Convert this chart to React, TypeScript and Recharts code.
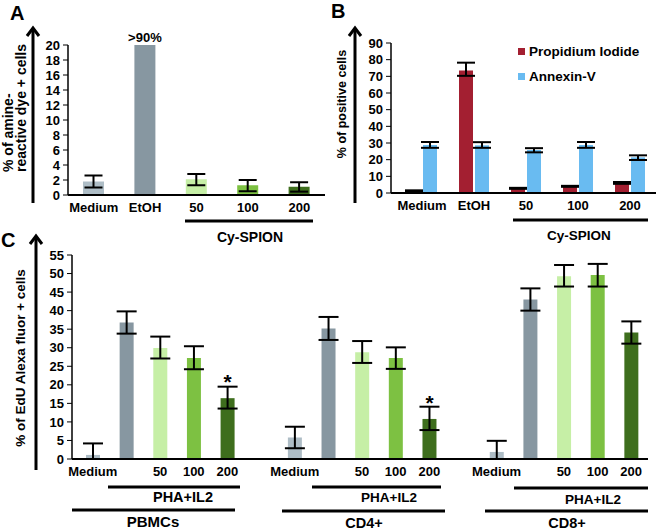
import React from "react"
import { BarChart, Bar, XAxis, YAxis, ErrorBar, Cell, LabelList, Legend } from "recharts"

// panel A - amine-reactive dye
const aCategories = ["Medium", "EtOH", "50", "100", "200"]
const aValues = [1.8, 20, 2.1, 1.3, 1.1]
const aErrLow = [0.8, null, 0.8, 0.8, 0.65]
const aErrHigh = [0.8, null, 0.7, 0.7, 0.6]
const aNotes = ["", ">90%", "", "", ""]
const aTicks = [0, 2, 4, 6, 8, 10, 12, 14, 16, 18, 20]

// panel B - PI / Annexin-V
const bCategories = ["Medium", "EtOH", "50", "100", "200"]
const piValues = [1.2, 73.5, 2.8, 4.0, 6.0]
const piErrLow = [0.4, 3.2, 0.3, 0.3, 0.5]
const piErrHigh = [0.4, 4.7, 0.3, 0.3, 0.6]
const annexinValues = [28.8, 28.6, 25.8, 28.8, 21.4]
const annexinErrLow = [1.7, 1.5, 1.4, 1.7, 1.6]
const annexinErrHigh = [1.8, 1.9, 1.1, 1.8, 1.2]
const bTicks = [0, 10, 20, 30, 40, 50, 60, 70, 80, 90]

// panel C - EdU proliferation (two empty slots split the cell groups)
const cLabels = ["Medium", "", "50", "100", "200", "", "Medium", "", "50", "100", "200", "", "Medium", "", "50", "100", "200"]
const cValues = [1.1, 36.8, 29.9, 27.2, 16.4, null, 5.8, 35.2, 28.8, 27.2, 10.8, null, 1.9, 43.0, 49.3, 49.6, 34.1]
const cErrLow = [1.1, 3.0, 2.8, 3.0, 2.8, null, 2.9, 3.1, 2.9, 2.9, 3.0, null, 1.9, 3.0, 2.8, 3.1, 3.0]
const cErrHigh = [3.1, 3.0, 3.1, 3.2, 3.1, null, 2.9, 3.1, 3.0, 2.9, 3.3, null, 3.0, 3.0, 3.0, 3.0, 3.0]
const cStars = ["", "", "", "", "*", "", "", "", "", "", "*", "", "", "", "", "", ""]
const cTicks = [0, 5, 10, 15, 20, 25, 30, 35, 40, 45, 50, 55]

const F = '"Liberation Sans", Arial, Helvetica, sans-serif'
const treatColors = ["#aebdc6", "#8797a1", "#c6efa6", "#7dc142", "#3e6e1d"]
const piColor = "#a31f31"
const annexinColor = "#69bbf1"

const errPair = (lo: number | null, hi: number | null) => (lo == null || hi == null ? undefined : [lo, hi])

const aData = aCategories.map((cat, i) => ({
  cat,
  value: aValues[i],
  err: errPair(aErrLow[i], aErrHigh[i]),
  note: aNotes[i],
}))

const bData = bCategories.map((cat, i) => ({
  cat,
  pi: piValues[i],
  piErr: [piErrLow[i], piErrHigh[i]],
  annexin: annexinValues[i],
  annexinErr: [annexinErrLow[i], annexinErrHigh[i]],
}))

const cData = cLabels.map((_, i) => ({
  slot: i,
  value: cValues[i],
  err: errPair(cErrLow[i], cErrHigh[i]),
  star: cStars[i],
}))

const bSeries = [
  { key: "pi", name: "Propidium Iodide", color: piColor },
  { key: "annexin", name: "Annexin-V", color: annexinColor },
]

const tickStyle = { fill: "#000", fontSize: 13, fontWeight: 700, fontFamily: F }
const xAxisLine = { stroke: "#000", strokeWidth: 2 }
const yAxisLine = { stroke: "#000", strokeWidth: 1.5 }

function Arrow({ x, top, bottom }: { x: number; top: number; bottom: number }) {
  return (
    <g>
      <line x1={x} y1={bottom} x2={x} y2={top + 2} stroke="#000" strokeWidth={3} />
      <path d={`M${x - 6},${top + 9} L${x},${top + 1} L${x + 6},${top + 9}`} fill="none" stroke="#000" strokeWidth={3} />
    </g>
  )
}

function GroupLine({ x1, x2, y }: { x1: number; x2: number; y: number }) {
  return <line x1={x1} x2={x2} y1={y} y2={y} stroke="#000" strokeWidth={3} />
}

function Txt({ x, y, size = 13, children }: { x: number; y: number; size?: number; children: React.ReactNode }) {
  return (
    <text x={x} y={y} textAnchor="middle" fontFamily={F} fontWeight={700} fontSize={size} fill="#000">
      {children}
    </text>
  )
}

export default function App() {
  const panelLetter = { position: "absolute" as const, fontFamily: F, fontWeight: 700, fontSize: 20, lineHeight: "20px" }
  return (
    <div style={{ position: "absolute", left: 0, top: 0, width: 661, height: 532, background: "#fff", fontFamily: F }}>
      {/* A */}
      <div style={{ position: "absolute", left: 0, top: 0 }}>
        <BarChart width={330} height={250} data={aData} margin={{ top: 45, right: 5, bottom: 25, left: 0 }}>
          <XAxis dataKey="cat" tick={tickStyle} tickLine={false} axisLine={xAxisLine} interval={0} />
          <YAxis domain={[0, 20]} ticks={aTicks} width={68} interval={0} tick={tickStyle} tickSize={5} tickMargin={3}
            tickLine={{ stroke: "#000" }} axisLine={yAxisLine} />
          <Bar dataKey="value" barSize={21} isAnimationActive={false}>
            {aData.map((_, i) => <Cell key={i} fill={treatColors[i]} />)}
            <ErrorBar dataKey="err" width={9} stroke="#000" strokeWidth={2} />
            <LabelList dataKey="note" position="top" offset={3} style={{ fill: "#000", fontSize: 13, fontWeight: 700, fontFamily: F }} />
          </Bar>
        </BarChart>
      </div>

      {/* B */}
      <div style={{ position: "absolute", left: 330, top: 0 }}>
        <BarChart width={331} height={250} data={bData} margin={{ top: 43, right: 5, bottom: 27, left: 0 }} barGap={2}>
          <XAxis dataKey="cat" tick={tickStyle} tickLine={false} axisLine={xAxisLine} interval={0} padding={{ left: 5, right: 0 }} />
          <YAxis domain={[0, 90]} ticks={bTicks} width={61} interval={0} tick={tickStyle} tickSize={5} tickMargin={3}
            tickLine={{ stroke: "#000" }} axisLine={yAxisLine} />
          <Legend layout="vertical" align="center" verticalAlign="middle"
            wrapperStyle={{ left: 188, top: 39, width: 140 }}
            content={() => (
              <div>
                {bSeries.map((s) => (
                  <div key={s.key} style={{ display: "flex", alignItems: "center", height: 25 }}>
                    <span style={{ width: 7, height: 7, background: s.color, marginRight: 4, display: "inline-block" }} />
                    <span style={{ fontFamily: F, fontWeight: 700, fontSize: 13.5, color: "#000" }}>{s.name}</span>
                  </div>
                ))}
              </div>
            )} />
          <Bar dataKey="pi" name="Propidium Iodide" fill={piColor} barSize={14} isAnimationActive={false}>
            <ErrorBar dataKey="piErr" width={9} stroke="#000" strokeWidth={2} />
          </Bar>
          <Bar dataKey="annexin" name="Annexin-V" fill={annexinColor} barSize={14} isAnimationActive={false}>
            <ErrorBar dataKey="annexinErr" width={9} stroke="#000" strokeWidth={2} />
          </Bar>
        </BarChart>
      </div>

      {/* C */}
      <div style={{ position: "absolute", left: 0, top: 240 }}>
        <BarChart width={661} height={292} data={cData} margin={{ top: 15, right: 13, bottom: 43, left: 0 }}>
          <XAxis dataKey="slot" tick={tickStyle} tickLine={false} axisLine={xAxisLine} interval={0}
            tickFormatter={(v) => cLabels[v]} padding={{ left: 4, right: 0 }} />
          <YAxis domain={[0, 55]} ticks={cTicks} width={72} interval={0} tick={tickStyle} tickSize={5} tickMargin={3}
            tickLine={{ stroke: "#000" }} axisLine={yAxisLine} />
          <Bar dataKey="value" barSize={14} isAnimationActive={false}>
            {cData.map((_, i) => <Cell key={i} fill={treatColors[i % 6] ?? "none"} />)}
            <ErrorBar dataKey="err" width={10} stroke="#000" strokeWidth={2} />
            <LabelList dataKey="star" position="top" offset={9} style={{ fill: "#000", fontSize: 21, fontWeight: 700, fontFamily: F }} />
          </Bar>
        </BarChart>
      </div>

      <div style={{ ...panelLetter, left: 10, top: 3 }}>A</div>
      <div style={{ ...panelLetter, left: 331, top: 1 }}>B</div>
      <div style={{ ...panelLetter, left: 1, top: 230 }}>C</div>

      <svg width={661} height={532} style={{ position: "absolute", left: 0, top: 0, pointerEvents: "none" }}>
        <Arrow x={33} top={27} bottom={203} />
        <Arrow x={355} top={27} bottom={203} />
        <Arrow x={36} top={235} bottom={470} />

        <text transform="translate(13,172) rotate(-90)" fontFamily={F} fontWeight={700} fontSize={14} fill="#000">% of amine-</text>
        <text transform="translate(26,172) rotate(-90)" fontFamily={F} fontWeight={700} fontSize={14} fill="#000">reactive dye + cells</text>
        <text transform="translate(346,104) rotate(-90)" textAnchor="middle" fontFamily={F} fontWeight={700} fontSize={12.5} fill="#000">% of  positive cells</text>
        <text transform="translate(25,358) rotate(-90)" textAnchor="middle" fontFamily={F} fontWeight={700} fontSize={13.5} fill="#000">% of EdU Alexa fluor + cells</text>

        <GroupLine x1={185} x2={313} y={221} />
        <Txt x={250} y={242} size={14}>Cy-SPION</Txt>
        <GroupLine x1={513} x2={648} y={220} />
        <Txt x={579} y={240} size={13.5}>Cy-SPION</Txt>

        <GroupLine x1={108} x2={240} y={487} />
        <Txt x={183} y={502} size={14.5}>PHA+IL2</Txt>
        <GroupLine x1={72} x2={235} y={510} />
        <Txt x={153} y={527} size={15}>PBMCs</Txt>

        <GroupLine x1={312} x2={441} y={487} />
        <Txt x={389} y={502} size={13.5}>PHA+IL2</Txt>
        <GroupLine x1={282} x2={445} y={511} />
        <Txt x={364} y={528} size={14.5}>CD4+</Txt>

        <GroupLine x1={514} x2={648} y={488} />
        <Txt x={593} y={504} size={13.5}>PHA+IL2</Txt>
        <GroupLine x1={485} x2={648} y={511} />
        <Txt x={567} y={528} size={14.5}>CD8+</Txt>
      </svg>
    </div>
  )
}
